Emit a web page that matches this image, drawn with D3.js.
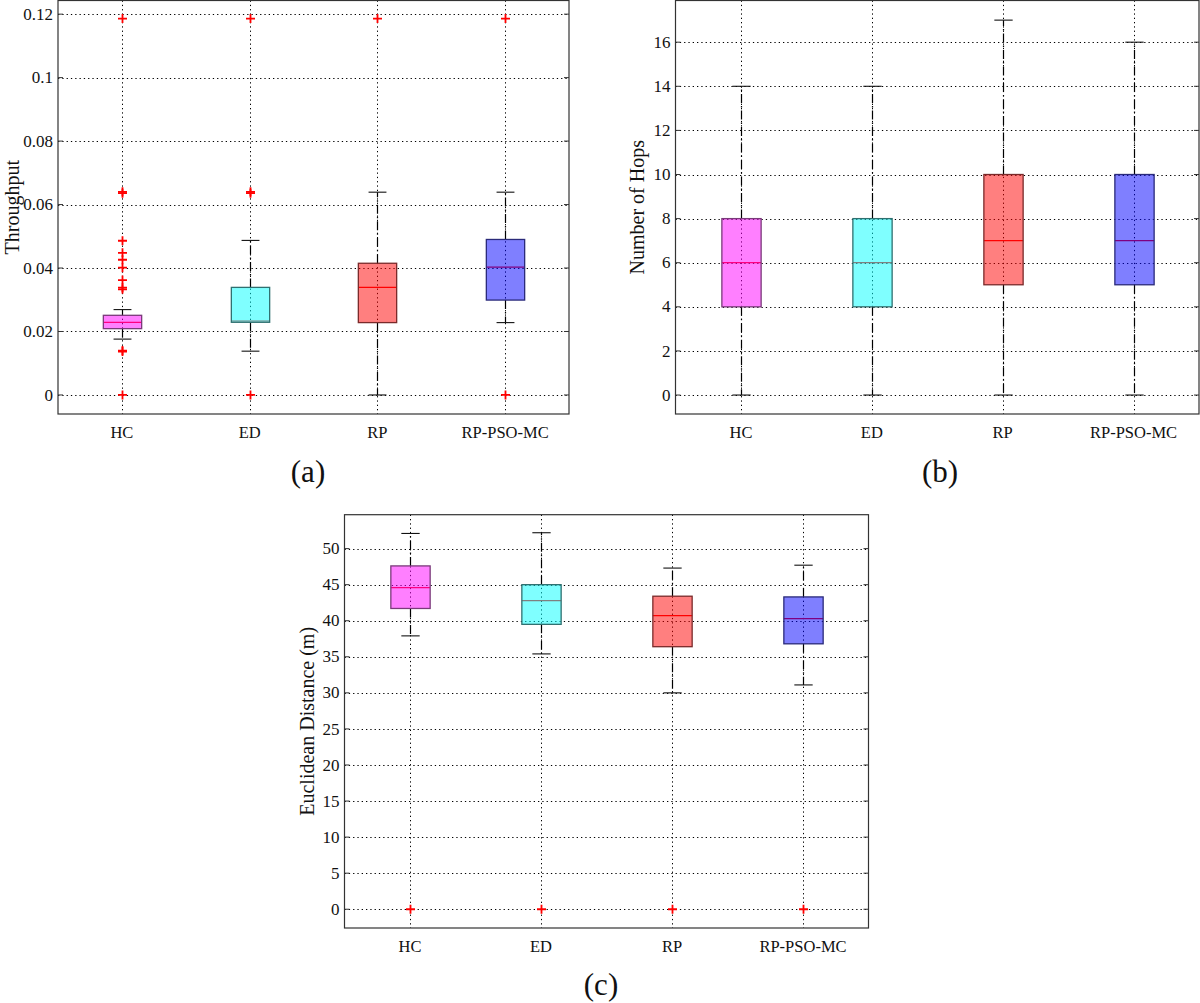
<!DOCTYPE html>
<html><head><meta charset="utf-8">
<script src="https://cdn.jsdelivr.net/npm/d3@7"></script>
<style>body{margin:0;background:#fff}svg{display:block}</style>
</head><body>
<script>
const categories = ["HC","ED","RP","RP-PSO-MC"];
const boxColors = ["#ff00ff","#00ffff","#ff0000","#0000ff"];
const edgeColors = ["#7a3a7a","#2f7070","#7a2a2a","#2a2a7a"];

// (a) Throughput
const thrQ1  = [0.0209, 0.0229, 0.0228, 0.0299];
const thrMed = [0.0229, 0.0233, 0.0339, 0.0403];
const thrQ3  = [0.0251, 0.0339, 0.0415, 0.0490];
const thrLo  = [0.0176, 0.0138, 0.0000, 0.0228];
const thrHi  = [0.0269, 0.0487, 0.0639, 0.0639];
const thrOut = [[0.1186,0.0640,0.0636,0.0486,0.0448,0.0426,0.0401,0.0362,0.0338,0.0333,0.0140,0.0137,0],
                [0.1186,0.0640,0.0636,0],
                [0.1186],
                [0.1186,0]];
const thrTicks = [0,0.02,0.04,0.06,0.08,0.1,0.12];
const thrTickLabels = ["0","0.02","0.04","0.06","0.08","0.1","0.12"];

// (b) Number of Hops
const hopQ1  = [4,4,5,5];
const hopMed = [6,6,7,7];
const hopQ3  = [8,8,10,10];
const hopLo  = [0,0,0,0];
const hopHi  = [14,14,17,16];
const hopOut = [[],[],[],[]];
const hopTicks = [0,2,4,6,8,10,12,14,16];
const hopTickLabels = ["0","2","4","6","8","10","12","14","16"];

// (c) Euclidean Distance
const distQ1  = [41.7, 39.5, 36.4, 36.8];
const distMed = [44.6, 42.8, 40.7, 40.3];
const distQ3  = [47.6, 45.0, 43.4, 43.3];
const distLo  = [37.9, 35.4, 30.0, 31.1];
const distHi  = [52.1, 52.2, 47.3, 47.7];
const distOut = [[0],[0],[0],[0]];
const distTicks = [0,5,10,15,20,25,30,35,40,45,50];
const distTickLabels = ["0","5","10","15","20","25","30","35","40","45","50"];

const W = 1200, H = 1003;
const svg = d3.select("body").append("svg").attr("width", W).attr("height", H)
  .attr("font-family", "'Liberation Serif','Times New Roman',serif");

function panel(opt) {
  const {left, right, top, bottom, domain, q1, med, q3, lo, hi, out, ticks, tickLabels, ylabel, ylabelX, tag, tagX, tagY} = opt;
  const g = svg.append("g");
  const x = d3.scaleBand().domain(categories).range([left, right]).paddingInner(0).paddingOuter(0);
  const y = d3.scaleLinear().domain(domain).range([bottom, top]);
  const step = x.step();
  const cx = c => x(c) + step / 2;
  const gridStroke = "#000", gridW = 1, gridDash = "1.3,3";

  g.selectAll(".hg").data(ticks).join("line")
    .attr("x1", left).attr("x2", right).attr("y1", d => Math.round(y(d)) + 0.5).attr("y2", d => Math.round(y(d)) + 0.5)
    .attr("stroke", gridStroke).attr("stroke-width", gridW).attr("stroke-dasharray", gridDash);
  g.selectAll(".vg").data(categories).join("line")
    .attr("x1", d => Math.round(cx(d)) + 0.5).attr("x2", d => Math.round(cx(d)) + 0.5).attr("y1", top).attr("y2", bottom)
    .attr("stroke", gridStroke).attr("stroke-width", gridW).attr("stroke-dasharray", gridDash);

  const bw = step * 0.30, cw = step * 0.14;
  categories.forEach((c, i) => {
    const xc = Math.round(cx(c)) + 0.5;
    g.append("line").attr("x1", xc).attr("x2", xc).attr("y1", y(q3[i])).attr("y2", y(hi[i]))
      .attr("stroke", "#000").attr("stroke-width", 1.2).attr("stroke-dasharray", "9,3,1.5,3");
    g.append("line").attr("x1", xc).attr("x2", xc).attr("y1", y(q1[i])).attr("y2", y(lo[i]))
      .attr("stroke", "#000").attr("stroke-width", 1.2).attr("stroke-dasharray", "9,3,1.5,3");
    [hi[i], lo[i]].forEach(v => {
      g.append("line").attr("x1", xc - cw/2).attr("x2", xc + cw/2).attr("y1", y(v)).attr("y2", y(v))
        .attr("stroke", "#111").attr("stroke-width", 1.1);
    });
    g.append("line").attr("x1", xc - bw/2).attr("x2", xc + bw/2).attr("y1", y(med[i])).attr("y2", y(med[i]))
      .attr("stroke", "#ff0000").attr("stroke-width", 1.2);
    g.append("rect").attr("x", xc - bw/2).attr("width", bw)
      .attr("y", y(q3[i])).attr("height", y(q1[i]) - y(q3[i]))
      .attr("fill", boxColors[i]).attr("fill-opacity", 0.5)
      .attr("stroke", edgeColors[i]).attr("stroke-width", 1.3);
    out[i].forEach(v => {
      const yy = y(v);
      g.append("path").attr("d", `M${xc-4.5},${yy}H${xc+4.5}M${xc},${yy-4.5}V${yy+4.5}`)
        .attr("stroke", "#ff0000").attr("stroke-width", 1.8);
    });
  });

  g.append("rect").attr("x", left).attr("y", top).attr("width", right - left).attr("height", bottom - top)
    .attr("fill", "none").attr("stroke", "#333").attr("stroke-width", 1.2);
  ticks.forEach(t => {
    g.append("line").attr("x1", left).attr("x2", left + 5).attr("y1", y(t)).attr("y2", y(t)).attr("stroke", "#333");
    g.append("line").attr("x1", right).attr("x2", right - 5).attr("y1", y(t)).attr("y2", y(t)).attr("stroke", "#333");
  });
  g.selectAll(".yl").data(ticks).join("text")
    .attr("x", left - 5).attr("y", d => y(d)).attr("dy", "0.33em")
    .attr("text-anchor", "end").attr("font-size", 17).attr("fill", "#111")
    .text((d, i) => tickLabels[i]);
  g.selectAll(".xl").data(categories).join("text")
    .attr("x", cx).attr("y", bottom + 19).attr("dy", "0.33em")
    .attr("text-anchor", "middle").attr("font-size", 16.5).attr("fill", "#111")
    .text(d => d);
  g.append("text").attr("transform", `translate(${ylabelX},${(top + bottom) / 2}) rotate(-90)`)
    .attr("text-anchor", "middle").attr("dy", "0.33em").attr("font-size", 20).attr("fill", "#111")
    .text(ylabel);
  g.append("text").attr("x", tagX).attr("y", tagY).attr("text-anchor", "middle").attr("dy", "0.33em")
    .attr("font-size", 31).attr("fill", "#111").text(tag);
}

panel({left: 58, right: 569, top: 0.5, bottom: 414, domain: [-0.006, 0.1243],
  q1: thrQ1, med: thrMed, q3: thrQ3, lo: thrLo, hi: thrHi, out: thrOut,
  ticks: thrTicks, tickLabels: thrTickLabels, ylabel: "Throughput", ylabelX: 12,
  tag: "(a)", tagX: 308, tagY: 472});

panel({left: 675.5, right: 1199, top: 0.5, bottom: 414, domain: [-0.86, 17.89],
  q1: hopQ1, med: hopMed, q3: hopQ3, lo: hopLo, hi: hopHi, out: hopOut,
  ticks: hopTicks, tickLabels: hopTickLabels, ylabel: "Number of Hops", ylabelX: 637,
  tag: "(b)", tagX: 940, tagY: 472});

panel({left: 344.5, right: 868.5, top: 514.7, bottom: 928, domain: [-2.6, 54.7],
  q1: distQ1, med: distMed, q3: distQ3, lo: distLo, hi: distHi, out: distOut,
  ticks: distTicks, tickLabels: distTickLabels, ylabel: "Euclidean Distance (m)", ylabelX: 307,
  tag: "(c)", tagX: 601, tagY: 985});
</script>
</body></html>
